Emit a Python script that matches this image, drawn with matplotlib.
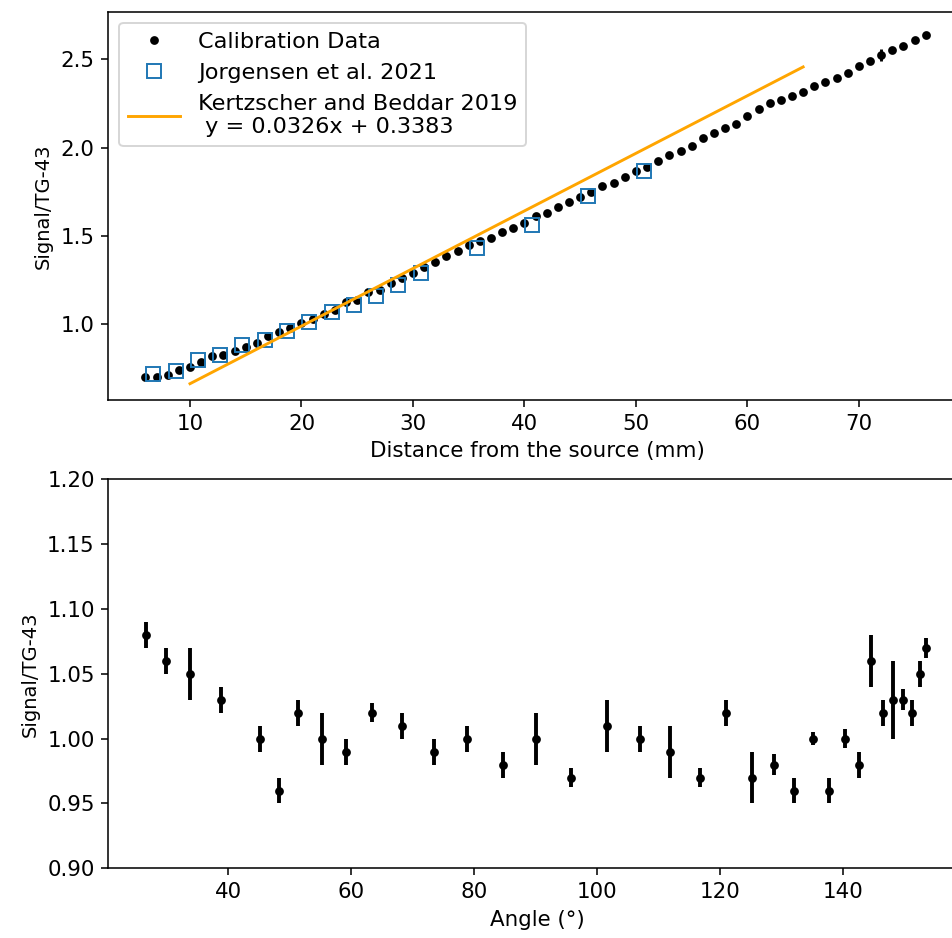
import numpy as np
import matplotlib
matplotlib.use("Agg")
import matplotlib.pyplot as plt
from matplotlib.ticker import MultipleLocator

# calibration data (distance in mm, signal / TG-43)
cal_x = np.arange(6, 77)
cal_y = [0.700, 0.703, 0.712, 0.740, 0.760, 0.788, 0.822, 0.828, 0.847, 0.873,
         0.893, 0.932, 0.957, 0.978, 1.006, 1.033, 1.056, 1.081, 1.125, 1.138,
         1.182, 1.195, 1.233, 1.262, 1.290, 1.325, 1.354, 1.386, 1.417, 1.449,
         1.473, 1.487, 1.521, 1.543, 1.575, 1.613, 1.632, 1.662, 1.694, 1.722,
         1.750, 1.783, 1.801, 1.835, 1.869, 1.892, 1.926, 1.958, 1.982, 2.010,
         2.053, 2.081, 2.109, 2.134, 2.181, 2.217, 2.251, 2.273, 2.292, 2.315,
         2.349, 2.371, 2.396, 2.424, 2.463, 2.492, 2.524, 2.556, 2.575, 2.609,
         2.637]
cal_err = [0.01] * len(cal_y)
cal_err[66] = 0.035  # x = 72

# Jorgensen et al. 2021
jor_x = [6.7, 8.7, 10.7, 12.7, 14.7, 16.7, 18.7, 20.7, 22.7, 24.7, 26.7, 28.7,
         30.7, 35.7, 40.7, 45.7, 50.7]
jor_y = [0.717, 0.738, 0.800, 0.828, 0.884, 0.910, 0.964, 1.016, 1.070, 1.108,
         1.160, 1.225, 1.290, 1.435, 1.565, 1.725, 1.868]

# Kertzscher and Beddar 2019 fit, y = 0.0326x + 0.3383
kb_x = [10, 65]
kb_y = [0.6643, 2.4573]

# angular dependence
angle = [26.7, 29.8, 33.8, 38.8, 45.2, 48.2, 51.3, 55.2, 59.1, 63.4, 68.3, 73.5,
         78.8, 84.6, 90.1, 95.8, 101.5, 106.9, 111.8, 116.7, 121.0, 125.2, 128.7,
         132.0, 135.1, 137.7, 140.3, 142.6, 144.5, 146.5, 148.0, 149.7, 151.2,
         152.4, 153.4]
ang_y = [1.08, 1.06, 1.05, 1.03, 1.00, 0.96, 1.02, 1.00, 0.99, 1.02, 1.01, 0.99,
         1.00, 0.98, 1.00, 0.97, 1.01, 1.00, 0.99, 0.97, 1.02, 0.97, 0.98,
         0.96, 1.00, 0.96, 1.00, 0.98, 1.06, 1.02, 1.03, 1.03, 1.02,
         1.05, 1.07]
ang_err = [0.01, 0.01, 0.02, 0.01, 0.01, 0.01, 0.01, 0.02, 0.01, 0.0075, 0.01, 0.01,
           0.01, 0.01, 0.02, 0.0075, 0.02, 0.01, 0.02, 0.0075, 0.01, 0.02, 0.008,
           0.01, 0.005, 0.01, 0.0075, 0.01, 0.02, 0.01, 0.03, 0.008, 0.01,
           0.01, 0.0075]

plt.rcParams["font.size"] = 11

W, H = 952, 938
fig = plt.figure(figsize=(6.8, 6.7), dpi=140)

ax1 = fig.add_axes([108.3 / W, 1 - 400 / H, (967 - 108.3) / W, (400 - 11.7) / H])
ax1.plot(cal_x, cal_y, "k.", ms=7, label="Calibration Data")
ax1.errorbar(cal_x, cal_y, yerr=cal_err, fmt="none", ecolor="k")
ax1.plot(jor_x, jor_y, "s", ms=7, mfc="none", mec="tab:blue", label="Jorgensen et al. 2021")
ax1.plot(kb_x, kb_y, color="orange", label="Kertzscher and Beddar 2019\n y = 0.0326x + 0.3383")
ax1.set_xlim(2.67, 79.7)
ax1.set_ylim(0.572, 2.77)
ax1.yaxis.set_major_locator(MultipleLocator(0.5))
ax1.set_xlabel("Distance from the source (mm)")
ax1.set_ylabel("Signal/TG-43", fontsize=10)
ax1.legend(loc="upper left", fontsize=11.5, handlelength=2.3)

ax2 = fig.add_axes([108.3 / W, 1 - 868.3 / H, (967 - 108.3) / W, (868.3 - 479.3) / H])
ax2.errorbar(angle, ang_y, yerr=ang_err, fmt="k.", ms=7, elinewidth=2)
ax2.set_xlim(20.5, 160.1)
ax2.set_ylim(0.90, 1.20)
ax2.set_xticks([40, 60, 80, 100, 120, 140])
ax2.set_xlabel("Angle (°)")
ax2.set_ylabel("Signal/TG-43", fontsize=10)

fig.savefig("out.png", dpi=140)
